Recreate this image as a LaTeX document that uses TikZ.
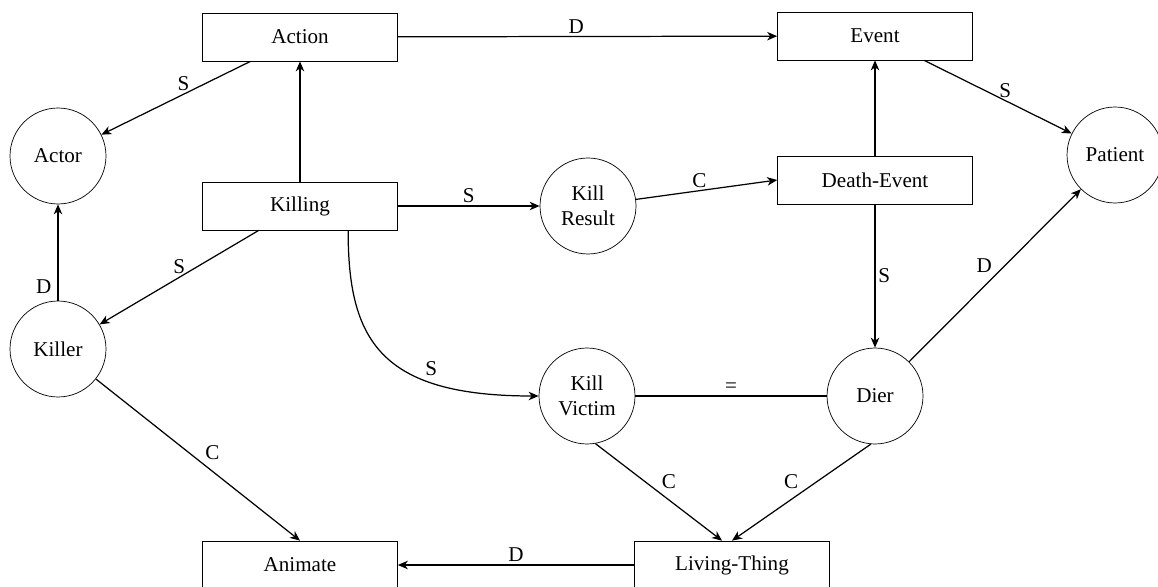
\documentclass[tikz,border=0pt]{standalone}
\usepackage{fontspec}
\setmainfont{Liberation Serif}
\usetikzlibrary{arrows.meta}

\begin{document}
\begin{tikzpicture}[x=0.02cm, y=-0.02cm]

\tikzset{frame/.style = {shape=rectangle,draw,minimum width=3.9cm,minimum height=0.96cm,font=\fontsize{12}{14}\selectfont}}
\tikzset{role/.style = {shape=circle,draw,minimum size=1.92cm,inner sep=0pt,align=center,font=\fontsize{12}{14}\selectfont}}
\tikzset{edge/.style = {->,> = {Stealth[length=2mm,width=1.7mm,inset=0.6mm]},line width=0.7pt}}
\tikzset{lbl/.style = {font=\fontsize{12}{14}\selectfont,inner sep=1.5pt}}
\useasboundingbox (0,0) rectangle (1158,587);
%frames
\node[frame] (Action) at (300,37) {Action};
\node[frame] (Event) at (875,36) {Event};
\node[frame] (Killing) at (300,206) {Killing};
\node[frame] (DeathEvent) at (875,180) {Death-Event};
\node[frame] (Animate) at (300,565) {Animate};
\node[frame] (LivingThing) at (732,565) {Living-Thing};
%roles
\node[role] (Actor) at (58,156) {Actor};
\node[role] (Patient) at (1115,155) {Patient};
\node[role] (KillResult) at (588,206) {Kill\\Result};
\node[role] (Killer) at (58,349) {Killer};
\node[role] (KillVictim) at (587,396) {Kill\\Victim};
\node[role] (Dier) at (875,396) {Dier};
%edges
\draw [edge] (Action) -- (Event) node [lbl, pos=0.47, above] {D};
\draw [edge] (Action) -- (Actor) node [lbl, pos=0.45, above] {S};
\draw [edge] (Event) -- (Patient) node [lbl, pos=0.55, above] {S};
\draw [edge] (Killing) -- (Action);
\draw [edge] (DeathEvent) -- (Event);
\draw [edge] (Killing) -- (KillResult) node [lbl, pos=0.5, above] {S};
\draw [edge] (KillResult) -- (DeathEvent.west) node [lbl, pos=0.45, above] {C};
\draw [edge] (Killing) -- (Killer) node [lbl, pos=0.5, above] {S};
\draw [edge] (Killer) -- (Actor) node [lbl, pos=0.15, left=2pt] {D};
\draw [edge] (Killer) -- (Animate.north) node [lbl, pos=0.52, above right=0pt] {C};
\draw [edge] ([xshift=2.92cm]Killing.south west) .. controls (348,340) and (380,396) .. (KillVictim.west)
  node [lbl, pos=0.68, above right=0pt] {S};
\draw [line width=0.7pt] (KillVictim) -- (Dier) node [lbl, pos=0.5, above] {=};
\draw [edge] (DeathEvent) -- (Dier) node [lbl, pos=0.5, right] {S};
\draw [edge] (Dier) -- (Patient) node [lbl, pos=0.5, above left=0pt] {D};
\draw [edge] (KillVictim.-80) -- ([xshift=-0.2cm]LivingThing.north) node [lbl, pos=0.5, above right=0pt] {C};
\draw [edge] (Dier.265) -- (LivingThing.north) node [lbl, pos=0.5, above left=0pt] {C};
\draw [edge] (LivingThing) -- (Animate) node [lbl, pos=0.5, above] {D};

\end{tikzpicture}
\end{document}
